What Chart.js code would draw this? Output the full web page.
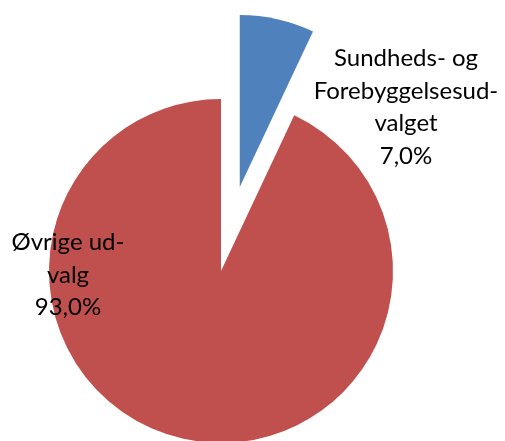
<!DOCTYPE html>
<html>
<head>
<meta charset="utf-8">
<script src="https://cdn.jsdelivr.net/npm/chart.js@4"></script>
<style>
  html, body { margin: 0; padding: 0; background: #fff; overflow: hidden; }
  #wrap { position: relative; width: 505px; height: 542px; }
</style>
</head>
<body>
<div id="wrap"><canvas id="chart"></canvas></div>
<script>
const labels = ["Sundheds- og Forebyggelsesudvalget", "Øvrige udvalg"]
const shares = [7.0, 93.0]
const labelLines = [
  ["Sundheds- og", "Forebyggelsesud-", "valget"],
  ["Øvrige ud-", "valg"],
]
const COLORS = ["#4F81BD", "#C0504D"]
const EXPLODE = [86, 0]   // pixels each slice is pulled out
const RADIUS = 172

// where each label block sits (centre x, first baseline y)
const LABEL_POS = [
  { x: 406, y: 66 },
  { x: 68, y: 250 },
]

// Chart.js draws offset/4, and for narrow slices it also grows the radius
// and trims the angle. Faking a quarter-circle circumference turns that off
// (the drawn path still uses startAngle/endAngle).
const plainExplode = {
  id: "plainExplode",
  afterDatasetUpdate(chart, args) {
    args.meta.data.forEach((arc, i) => {
      if (!EXPLODE[i]) return
      arc.circumference = Math.PI / 2
      arc.outerRadius = RADIUS
    })
  }
}

const sliceLabels = {
  id: "sliceLabels",
  afterDatasetsDraw(chart) {
    const ctx = chart.ctx
    const data = chart.data.datasets[0].data
    ctx.save()
    ctx.fillStyle = "#000"
    ctx.font = "24px Lato"
    ctx.textAlign = "center"
    ctx.textBaseline = "alphabetic"
    data.forEach((v, i) => {
      const lines = [...labelLines[i], v.toFixed(1).replace(".", ",") + "%"]
      const pos = LABEL_POS[i]
      lines.forEach((line, j) => {
        ctx.fillText(line, pos.x, pos.y + j * 32.7)
      })
    })
    ctx.restore()
  }
}

new Chart(document.getElementById("chart"), {
  type: "pie",
  data: {
    labels,
    datasets: [{
      data: shares,
      backgroundColor: COLORS,
      borderWidth: 0,
      offset: EXPLODE.map(d => d * 4),
    }]
  },
  options: {
    responsive: true,
    maintainAspectRatio: false,
    animation: false,
    radius: RADIUS,
    layout: { padding: { left: 0, right: 63, top: 0, bottom: 0 } },
    plugins: {
      legend: { display: false },
      tooltip: { enabled: false },
    }
  },
  plugins: [plainExplode, sliceLabels]
})
</script>
</body>
</html>
